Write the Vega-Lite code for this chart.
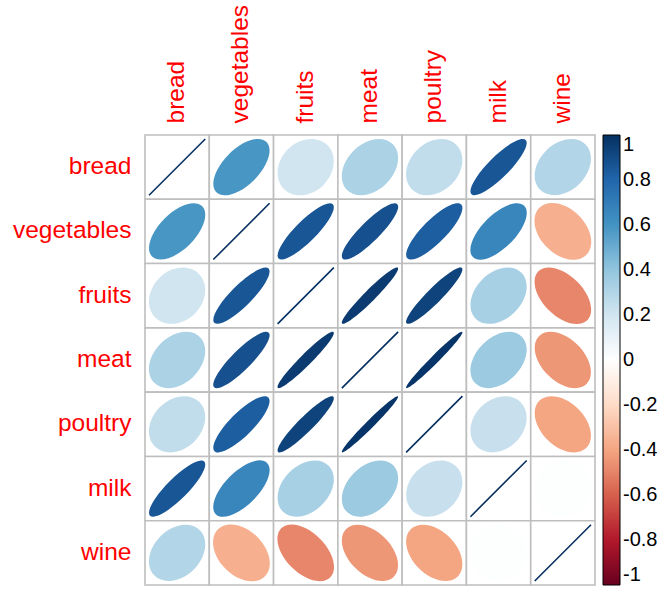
{
  "$schema": "https://vega.github.io/schema/vega-lite/v6.json",
  "autosize": {"type": "none"},
  "padding": {"left": 145, "top": 135, "right": 67, "bottom": 13},
  "width": 450,
  "height": 450,
  "config": {
    "font": "Liberation Sans",
    "view": {"stroke": null}
  },
  "data": {
    "values": [
      {"row": "bread", "col": "bread", "r": 1},
      {"row": "bread", "col": "vegetables", "r": 0.59},
      {"row": "bread", "col": "fruits", "r": 0.20},
      {"row": "bread", "col": "meat", "r": 0.32},
      {"row": "bread", "col": "poultry", "r": 0.25},
      {"row": "bread", "col": "milk", "r": 0.86},
      {"row": "bread", "col": "wine", "r": 0.30},
      {"row": "vegetables", "col": "bread", "r": 0.59},
      {"row": "vegetables", "col": "vegetables", "r": 1},
      {"row": "vegetables", "col": "fruits", "r": 0.86},
      {"row": "vegetables", "col": "meat", "r": 0.88},
      {"row": "vegetables", "col": "poultry", "r": 0.83},
      {"row": "vegetables", "col": "milk", "r": 0.66},
      {"row": "vegetables", "col": "wine", "r": -0.36},
      {"row": "fruits", "col": "bread", "r": 0.20},
      {"row": "fruits", "col": "vegetables", "r": 0.86},
      {"row": "fruits", "col": "fruits", "r": 1},
      {"row": "fruits", "col": "meat", "r": 0.96},
      {"row": "fruits", "col": "poultry", "r": 0.93},
      {"row": "fruits", "col": "milk", "r": 0.33},
      {"row": "fruits", "col": "wine", "r": -0.49},
      {"row": "meat", "col": "bread", "r": 0.32},
      {"row": "meat", "col": "vegetables", "r": 0.88},
      {"row": "meat", "col": "fruits", "r": 0.96},
      {"row": "meat", "col": "meat", "r": 1},
      {"row": "meat", "col": "poultry", "r": 0.98},
      {"row": "meat", "col": "milk", "r": 0.37},
      {"row": "meat", "col": "wine", "r": -0.44},
      {"row": "poultry", "col": "bread", "r": 0.25},
      {"row": "poultry", "col": "vegetables", "r": 0.83},
      {"row": "poultry", "col": "fruits", "r": 0.93},
      {"row": "poultry", "col": "meat", "r": 0.98},
      {"row": "poultry", "col": "poultry", "r": 1},
      {"row": "poultry", "col": "milk", "r": 0.23},
      {"row": "poultry", "col": "wine", "r": -0.40},
      {"row": "milk", "col": "bread", "r": 0.86},
      {"row": "milk", "col": "vegetables", "r": 0.66},
      {"row": "milk", "col": "fruits", "r": 0.33},
      {"row": "milk", "col": "meat", "r": 0.37},
      {"row": "milk", "col": "poultry", "r": 0.23},
      {"row": "milk", "col": "milk", "r": 1},
      {"row": "milk", "col": "wine", "r": 0.01},
      {"row": "wine", "col": "bread", "r": 0.30},
      {"row": "wine", "col": "vegetables", "r": -0.36},
      {"row": "wine", "col": "fruits", "r": -0.49},
      {"row": "wine", "col": "meat", "r": -0.44},
      {"row": "wine", "col": "poultry", "r": -0.40},
      {"row": "wine", "col": "milk", "r": 0.01},
      {"row": "wine", "col": "wine", "r": 1}
    ]
  },
  "encoding": {
    "x": {
      "field": "col",
      "type": "nominal",
      "sort": ["bread", "vegetables", "fruits", "meat", "poultry", "milk", "wine"],
      "scale": {"paddingInner": 0, "paddingOuter": 0},
      "axis": {
        "orient": "top",
        "title": null,
        "domain": false,
        "ticks": false,
        "labelAngle": -90,
        "labelAlign": "left",
        "labelBaseline": "middle",
        "labelColor": "#FF0000",
        "labelFontSize": 24.5,
        "labelPadding": 12
      }
    },
    "y": {
      "field": "row",
      "type": "nominal",
      "sort": ["bread", "vegetables", "fruits", "meat", "poultry", "milk", "wine"],
      "scale": {"paddingInner": 0, "paddingOuter": 0},
      "axis": {
        "title": null,
        "domain": false,
        "ticks": false,
        "labelColor": "#FF0000",
        "labelFontSize": 24.5,
        "labelPadding": 14
      }
    }
  },
  "layer": [
    {
      "mark": {"type": "rect", "fill": "white", "stroke": "#BEBEBE", "strokeWidth": 1.6}
    },
    {
      "transform": [{"filter": "datum.r < 1"}],
      "mark": {"type": "point", "filled": true, "opacity": 1, "size": 4380, "strokeWidth": 0},
      "encoding": {
        "shape": {
          "field": "r",
          "type": "nominal",
          "legend": null,
          "scale": {
            "domain": [0.98, 0.96, 0.93, 0.88, 0.86, 0.83, 0.66, 0.59, 0.37, 0.33, 0.32, 0.30, 0.25, 0.23, 0.20, 0.01, -0.36, -0.40, -0.44, -0.49],
            "range": [
              "M 0.8458 -0.8458 A 1.1961 0.1202 -45 1 1 -0.8458 0.8458 A 1.1961 0.1202 -45 1 1 0.8458 -0.8458 Z",
              "M 0.8415 -0.8415 A 1.19 0.17 -45 1 1 -0.8415 0.8415 A 1.19 0.17 -45 1 1 0.8415 -0.8415 Z",
              "M 0.835 -0.835 A 1.1808 0.2249 -45 1 1 -0.835 0.835 A 1.1808 0.2249 -45 1 1 0.835 -0.835 Z",
              "M 0.8241 -0.8241 A 1.1655 0.2944 -45 1 1 -0.8241 0.8241 A 1.1655 0.2944 -45 1 1 0.8241 -0.8241 Z",
              "M 0.8197 -0.8197 A 1.1592 0.318 -45 1 1 -0.8197 0.8197 A 1.1592 0.318 -45 1 1 0.8197 -0.8197 Z",
              "M 0.8131 -0.8131 A 1.1499 0.3505 -45 1 1 -0.8131 0.8131 A 1.1499 0.3505 -45 1 1 0.8131 -0.8131 Z",
              "M 0.7744 -0.7744 A 1.0952 0.4956 -45 1 1 -0.7744 0.7744 A 1.0952 0.4956 -45 1 1 0.7744 -0.7744 Z",
              "M 0.7579 -0.7579 A 1.0718 0.5443 -45 1 1 -0.7579 0.7579 A 1.0718 0.5443 -45 1 1 0.7579 -0.7579 Z",
              "M 0.7035 -0.7035 A 0.9949 0.6747 -45 1 1 -0.7035 0.7035 A 0.9949 0.6747 -45 1 1 0.7035 -0.7035 Z",
              "M 0.6932 -0.6932 A 0.9803 0.6958 -45 1 1 -0.6932 0.6932 A 0.9803 0.6958 -45 1 1 0.6932 -0.6932 Z",
              "M 0.6906 -0.6906 A 0.9766 0.7009 -45 1 1 -0.6906 0.6906 A 0.9766 0.7009 -45 1 1 0.6906 -0.6906 Z",
              "M 0.6853 -0.6853 A 0.9691 0.7112 -45 1 1 -0.6853 0.6853 A 0.9691 0.7112 -45 1 1 0.6853 -0.6853 Z",
              "M 0.672 -0.672 A 0.9503 0.7361 -45 1 1 -0.672 0.672 A 0.9503 0.7361 -45 1 1 0.672 -0.672 Z",
              "M 0.6666 -0.6666 A 0.9427 0.7459 -45 1 1 -0.6666 0.6666 A 0.9427 0.7459 -45 1 1 0.6666 -0.6666 Z",
              "M 0.6584 -0.6584 A 0.9311 0.7603 -45 1 1 -0.6584 0.6584 A 0.9311 0.7603 -45 1 1 0.6584 -0.6584 Z",
              "M 0.604 -0.604 A 0.8542 0.8457 -45 1 1 -0.604 0.604 A 0.8542 0.8457 -45 1 1 0.604 -0.604 Z",
              "M 0.4808 -0.4808 A 0.68 0.9913 -45 1 1 -0.4808 0.4808 A 0.68 0.9913 -45 1 1 0.4808 -0.4808 Z",
              "M 0.4656 -0.4656 A 0.6584 1.0057 -45 1 1 -0.4656 0.4656 A 0.6584 1.0057 -45 1 1 0.4656 -0.4656 Z",
              "M 0.4498 -0.4498 A 0.6361 1.02 -45 1 1 -0.4498 0.4498 A 0.6361 1.02 -45 1 1 0.4498 -0.4498 Z",
              "M 0.4292 -0.4292 A 0.607 1.0376 -45 1 1 -0.4292 0.4292 A 0.607 1.0376 -45 1 1 0.4292 -0.4292 Z"
            ]
          }
        },
        "fill": {
          "field": "r",
          "type": "quantitative",
          "scale": {
            "type": "linear",
            "domain": [-1, -0.8, -0.6, -0.4, -0.2, 0, 0.2, 0.4, 0.6, 0.8, 1],
            "range": ["#67001F", "#B2182B", "#D6604D", "#F4A582", "#FDDBC7", "#FFFFFF", "#D1E5F0", "#92C5DE", "#4393C3", "#2166AC", "#053061"],
            "interpolate": "rgb"
          },
          "legend": {
            "type": "gradient",
            "title": null,
            "orient": "none",
            "legendX": 458,
            "legendY": 0,
            "direction": "vertical",
            "padding": 0,
            "gradientLength": 450,
            "gradientThickness": 17,
            "gradientStrokeColor": "#000000",
            "gradientStrokeWidth": 1,
            "values": [1, 0.8, 0.6, 0.4, 0.2, 0, -0.2, -0.4, -0.6, -0.8, -1],
            "labelExpr": "replace(format(datum.value, '~g'), '\u2212', '-')",
            "labelFontSize": 20,
            "labelColor": "#000000",
            "labelOffset": 3,
            "labelOverlap": false,
            "labelLimit": 0
          }
        }
      }
    },
    {
      "transform": [{"filter": "datum.r == 1"}],
      "mark": {
        "type": "point",
        "filled": false,
        "opacity": 1,
        "size": 4380,
        "shape": "M 0.85 -0.85 L -0.85 0.85 Z",
        "stroke": "#053061",
        "strokeWidth": 1.6
      }
    }
  ]
}
